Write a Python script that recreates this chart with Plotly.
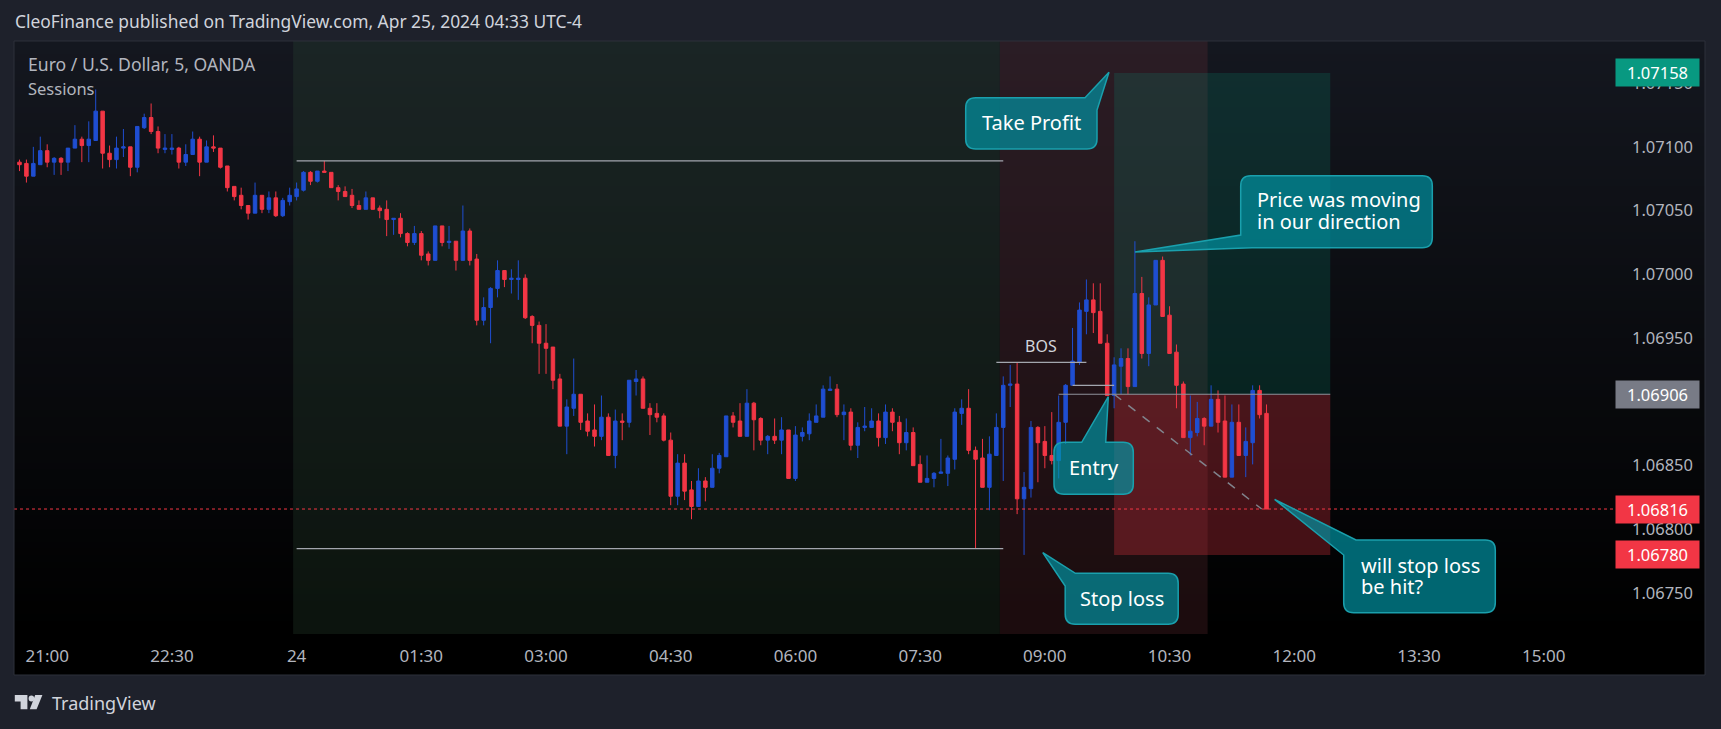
import pandas as pd
import plotly.graph_objects as go

W, H = 1721, 729

# ------------------------------------------------------------------ data
start_time = "2024-04-23 20:40"
bar_minutes = 5

opens = [
    1.07088, 1.07087, 1.07077, 1.07086,
    1.07097, 1.07088, 1.07091, 1.07088, 1.07099, 1.07106, 1.07101, 1.07105, 1.07128, 1.07095,
    1.07090, 1.07099, 1.07100, 1.07084, 1.07115, 1.07123, 1.07112, 1.07098, 1.07098, 1.07099,
    1.07088, 1.07094, 1.07106, 1.07088, 1.07100, 1.07099, 1.07085, 1.07069, 1.07062, 1.07054,
    1.07048, 1.07062, 1.07051, 1.07060, 1.07046, 1.07057, 1.07061, 1.07066, 1.07080, 1.07073,
    1.07081, 1.07080, 1.07068, 1.07065, 1.07062, 1.07054, 1.07051, 1.07060, 1.07052, 1.07051,
    1.07043, 1.07044, 1.07032, 1.07025, 1.07032, 1.07016, 1.07011, 1.07038, 1.07025, 1.07026,
    1.07011, 1.07034, 1.07012, 1.06964, 1.06974, 1.06989, 1.07003, 1.06996, 1.06996, 1.06997,
    1.06967, 1.06960, 1.06946, 1.06943, 1.06918, 1.06881, 1.06895, 1.06906, 1.06885, 1.06878,
    1.06873, 1.06888, 1.06858, 1.06885, 1.06884, 1.06916, 1.06918, 1.06895, 1.06891, 1.06889,
    1.06870, 1.06826, 1.06852, 1.06831, 1.06818, 1.06838, 1.06833, 1.06848, 1.06857, 1.06889,
    1.06885, 1.06873, 1.06899, 1.06887, 1.06870, 1.06873, 1.06870, 1.06878, 1.06840, 1.06873,
    1.06875, 1.06884, 1.06888, 1.06909, 1.06910, 1.06890, 1.06892, 1.06866, 1.06880, 1.06880,
    1.06885, 1.06872, 1.06892, 1.06884, 1.06868, 1.06876, 1.06851, 1.06837, 1.06840, 1.06844,
    1.06844, 1.06855, 1.06891, 1.06895, 1.06862, 1.06856, 1.06833, 1.06858, 1.06880, 1.06913,
    1.06914, 1.06824, 1.06832, 1.06880, 1.06869, 1.06858, 1.06854, 1.06884, 1.06913, 1.06931,
    1.06971, 1.06980, 1.06971, 1.06946, 1.06905, 1.06928, 1.06934, 1.06912, 1.06985, 1.06938,
    1.06976, 1.07011, 1.06968, 1.06939, 1.06914, 1.06872, 1.06876, 1.06887, 1.06881, 1.06902,
    1.06885, 1.06841, 1.06884, 1.06858, 1.06868, 1.06909, 1.06891,
]
highs = [
    1.07090, 1.07090, 1.07100, 1.07108,
    1.07102, 1.07092, 1.07092, 1.07099, 1.07117, 1.07108, 1.07120, 1.07145, 1.07128, 1.07101,
    1.07108, 1.07114, 1.07100, 1.07116, 1.07126, 1.07134, 1.07116, 1.07110, 1.07110, 1.07100,
    1.07102, 1.07112, 1.07108, 1.07105, 1.07109, 1.07099, 1.07085, 1.07069, 1.07068, 1.07054,
    1.07072, 1.07062, 1.07065, 1.07065, 1.07060, 1.07068, 1.07072, 1.07081, 1.07081, 1.07081,
    1.07089, 1.07080, 1.07070, 1.07069, 1.07067, 1.07058, 1.07065, 1.07060, 1.07054, 1.07058,
    1.07044, 1.07048, 1.07033, 1.07038, 1.07034, 1.07018, 1.07038, 1.07038, 1.07038, 1.07026,
    1.07054, 1.07036, 1.07016, 1.06982, 1.06990, 1.07011, 1.07003, 1.07004, 1.07011, 1.07000,
    1.06968, 1.06963, 1.06961, 1.06943, 1.06922, 1.06902, 1.06934, 1.06906, 1.06891, 1.06898,
    1.06905, 1.06891, 1.06894, 1.06891, 1.06917, 1.06925, 1.06920, 1.06899, 1.06899, 1.06891,
    1.06876, 1.06859, 1.06859, 1.06838, 1.06848, 1.06841, 1.06859, 1.06860, 1.06889, 1.06892,
    1.06899, 1.06910, 1.06900, 1.06888, 1.06874, 1.06887, 1.06888, 1.06878, 1.06881, 1.06880,
    1.06891, 1.06898, 1.06913, 1.06920, 1.06914, 1.06898, 1.06895, 1.06884, 1.06896, 1.06895,
    1.06891, 1.06898, 1.06895, 1.06889, 1.06887, 1.06880, 1.06858, 1.06858, 1.06845, 1.06871,
    1.06858, 1.06895, 1.06902, 1.06910, 1.06865, 1.06871, 1.06873, 1.06891, 1.06920, 1.06929,
    1.06931, 1.06845, 1.06885, 1.06881, 1.06881, 1.06892, 1.06905, 1.06914, 1.06958, 1.06978,
    1.06996, 1.06993, 1.06993, 1.06953, 1.06935, 1.06942, 1.06942, 1.07026, 1.06998, 1.06982,
    1.07011, 1.07014, 1.06975, 1.06945, 1.06916, 1.06905, 1.06900, 1.06888, 1.06913, 1.06909,
    1.06905, 1.06898, 1.06898, 1.06880, 1.06913, 1.06913, 1.06898,
]
lows = [
    1.07081, 1.07072, 1.07077, 1.07086,
    1.07084, 1.07078, 1.07078, 1.07081, 1.07099, 1.07088, 1.07088, 1.07105, 1.07083, 1.07084,
    1.07083, 1.07092, 1.07077, 1.07080, 1.07114, 1.07110, 1.07095, 1.07095, 1.07094, 1.07083,
    1.07085, 1.07094, 1.07077, 1.07088, 1.07096, 1.07083, 1.07065, 1.07058, 1.07051, 1.07043,
    1.07048, 1.07048, 1.07048, 1.07045, 1.07045, 1.07054, 1.07058, 1.07065, 1.07070, 1.07072,
    1.07080, 1.07068, 1.07058, 1.07061, 1.07052, 1.07051, 1.07051, 1.07051, 1.07044, 1.07030,
    1.07031, 1.07029, 1.07022, 1.07023, 1.07011, 1.07007, 1.07011, 1.07022, 1.07020, 1.07003,
    1.07011, 1.07007, 1.06960, 1.06960, 1.06946, 1.06982, 1.06990, 1.06985, 1.06980, 1.06965,
    1.06946, 1.06922, 1.06922, 1.06910, 1.06881, 1.06859, 1.06889, 1.06878, 1.06873, 1.06865,
    1.06870, 1.06858, 1.06848, 1.06870, 1.06880, 1.06905, 1.06895, 1.06874, 1.06884, 1.06869,
    1.06819, 1.06819, 1.06823, 1.06808, 1.06818, 1.06822, 1.06833, 1.06844, 1.06857, 1.06880,
    1.06873, 1.06873, 1.06862, 1.06866, 1.06859, 1.06867, 1.06859, 1.06840, 1.06838, 1.06869,
    1.06870, 1.06884, 1.06888, 1.06909, 1.06888, 1.06870, 1.06862, 1.06856, 1.06877, 1.06880,
    1.06865, 1.06867, 1.06877, 1.06859, 1.06862, 1.06850, 1.06837, 1.06837, 1.06833, 1.06844,
    1.06834, 1.06847, 1.06882, 1.06859, 1.06785, 1.06833, 1.06815, 1.06858, 1.06838, 1.06896,
    1.06812, 1.06780, 1.06825, 1.06837, 1.06848, 1.06851, 1.06840, 1.06867, 1.06913, 1.06929,
    1.06953, 1.06954, 1.06946, 1.06905, 1.06895, 1.06906, 1.06906, 1.06912, 1.06934, 1.06928,
    1.06976, 1.06967, 1.06938, 1.06895, 1.06872, 1.06858, 1.06873, 1.06866, 1.06881, 1.06876,
    1.06841, 1.06841, 1.06858, 1.06841, 1.06851, 1.06887, 1.06816,
]
closes = [
    1.07086, 1.07077, 1.07087, 1.07097,
    1.07088, 1.07091, 1.07088, 1.07099, 1.07106, 1.07101, 1.07106, 1.07128, 1.07095, 1.07090,
    1.07099, 1.07100, 1.07084, 1.07116, 1.07123, 1.07112, 1.07099, 1.07099, 1.07099, 1.07088,
    1.07094, 1.07106, 1.07088, 1.07100, 1.07099, 1.07084, 1.07068, 1.07061, 1.07054, 1.07048,
    1.07062, 1.07051, 1.07060, 1.07046, 1.07058, 1.07062, 1.07067, 1.07080, 1.07073, 1.07081,
    1.07080, 1.07068, 1.07065, 1.07061, 1.07054, 1.07051, 1.07060, 1.07051, 1.07050, 1.07043,
    1.07044, 1.07032, 1.07025, 1.07032, 1.07015, 1.07011, 1.07038, 1.07025, 1.07026, 1.07011,
    1.07034, 1.07011, 1.06964, 1.06974, 1.06989, 1.07003, 1.06996, 1.06997, 1.06997, 1.06966,
    1.06960, 1.06946, 1.06942, 1.06917, 1.06881, 1.06896, 1.06906, 1.06884, 1.06877, 1.06873,
    1.06888, 1.06858, 1.06885, 1.06884, 1.06917, 1.06918, 1.06895, 1.06890, 1.06888, 1.06870,
    1.06826, 1.06852, 1.06830, 1.06818, 1.06838, 1.06833, 1.06848, 1.06858, 1.06889, 1.06884,
    1.06873, 1.06899, 1.06886, 1.06870, 1.06873, 1.06870, 1.06878, 1.06840, 1.06874, 1.06876,
    1.06885, 1.06889, 1.06910, 1.06910, 1.06890, 1.06892, 1.06866, 1.06880, 1.06881, 1.06885,
    1.06872, 1.06892, 1.06884, 1.06868, 1.06876, 1.06850, 1.06837, 1.06840, 1.06844, 1.06845,
    1.06856, 1.06892, 1.06895, 1.06862, 1.06855, 1.06833, 1.06859, 1.06880, 1.06913, 1.06914,
    1.06824, 1.06833, 1.06880, 1.06868, 1.06858, 1.06854, 1.06884, 1.06913, 1.06932, 1.06972,
    1.06980, 1.06970, 1.06946, 1.06905, 1.06929, 1.06934, 1.06912, 1.06985, 1.06938, 1.06976,
    1.07011, 1.06967, 1.06938, 1.06913, 1.06872, 1.06877, 1.06887, 1.06881, 1.06902, 1.06884,
    1.06841, 1.06884, 1.06858, 1.06869, 1.06909, 1.06890, 1.06816,
]

x_tick_times = ["2024-04-23 21:00", "2024-04-23 22:30", "2024-04-24 00:00", "2024-04-24 01:30",
                "2024-04-24 03:00", "2024-04-24 04:30", "2024-04-24 06:00", "2024-04-24 07:30",
                "2024-04-24 09:00", "2024-04-24 10:30", "2024-04-24 12:00", "2024-04-24 13:30",
                "2024-04-24 15:00"]
x_tick_text = ["21:00", "22:30", "24", "01:30", "03:00", "04:30", "06:00", "07:30",
               "09:00", "10:30", "12:00", "13:30", "15:00"]
y_ticks = [1.0675, 1.0680, 1.0685, 1.0690, 1.0695, 1.0700, 1.0705, 1.0710, 1.0715]

asia_session = ("2024-04-24 00:00", "2024-04-24 08:30")
london_session = ("2024-04-24 08:30", "2024-04-24 11:00")
asia_high, asia_low = 1.07089, 1.06785
bos_level = 1.06931
bos_span = ("2024-04-24 08:25", "2024-04-24 09:30")
bos_label_time = "2024-04-24 08:57:30"
mark_level = 1.06913
mark_span = ("2024-04-24 09:20", "2024-04-24 09:50")
entry_price, take_profit, stop_loss = 1.06906, 1.07158, 1.06780
entry_line_start = "2024-04-24 09:10"
pos_start, pos_end = "2024-04-24 09:50", "2024-04-24 12:26"
diag_end_time = "2024-04-24 11:36:30"

# ------------------------------------------------------------------ style
BLUE = "#1f4ed1"
RED = "#f23645"
AXIS_TXT = "#b2b5be"
FONT = "Noto Sans"

# pixel frame of the chart pane
PL, PR, PT, PB = 14, 1705, 41, 634
X21_PX, BAR_PX = 47.2, 6.928          # position of 21:00 bar, width of one bar
Y_TOP, Y_BOT = 1.07183, 1.06718

t21 = pd.Timestamp("2024-04-23 21:00")
bar = pd.Timedelta(minutes=bar_minutes)


def t_at(px):
    return t21 + bar * ((px - X21_PX) / BAR_PX)


x_r0, x_r1 = t_at(PL), t_at(PR)
half = bar / 2
times = pd.date_range(start_time, periods=len(opens), freq=f"{bar_minutes}min")


def X(px):
    return px / W


def Y(py):
    return 1 - py / H


fig = go.Figure()

# gradient pane background (heatmap layer sits under bars and candles)
n_steps = 90
edges = [Y_BOT + (Y_TOP - Y_BOT) * k / n_steps for k in range(n_steps + 1)]
fig.add_trace(go.Heatmap(
    x=[x_r0, x_r1], y=edges, z=[[k / (n_steps - 1)] for k in range(n_steps)],
    colorscale=[[0, "#000000"], [1, "#14171f"]], showscale=False, hoverinfo="skip",
    zmin=0, zmax=1))


def rect(t0, t1, y0, y1, color):
    t0, t1 = pd.Timestamp(t0), pd.Timestamp(t1)
    fig.add_trace(go.Bar(
        x=[t0 + (t1 - t0) / 2], y=[y1 - y0], base=[y0],
        width=[(t1 - t0).total_seconds() * 1000],
        marker=dict(color=color, line=dict(width=0)),
        hoverinfo="skip", showlegend=False))


# sessions
rect(pd.Timestamp(asia_session[0]) - half, pd.Timestamp(asia_session[1]) - half,
     Y_BOT, Y_TOP, "rgba(46,77,54,0.26)")
rect(pd.Timestamp(london_session[0]) - half, pd.Timestamp(london_session[1]) - half,
     Y_BOT, Y_TOP, "rgba(108,46,54,0.26)")

# long position tool
rect(pos_start, pos_end, entry_price, take_profit, "rgba(8,153,129,0.18)")
rect(pos_start, pos_end, stop_loss, entry_price, "rgba(242,54,69,0.28)")

fig.add_trace(go.Candlestick(
    x=times, open=opens, high=highs, low=lows, close=closes,
    increasing=dict(line=dict(color=BLUE, width=1), fillcolor=BLUE),
    decreasing=dict(line=dict(color=RED, width=1), fillcolor=RED),
    whiskerwidth=0, hoverinfo="skip", showlegend=False))


def hline(x0, x1, y, color, width=1.2, dash="solid"):
    fig.add_trace(go.Scatter(x=[x0, x1], y=[y, y], mode="lines",
                             line=dict(color=color, width=width, dash=dash),
                             hoverinfo="skip", showlegend=False))


hline(asia_session[0], asia_session[1], asia_high, "#a3a6ae")
hline(asia_session[0], asia_session[1], asia_low, "#a3a6ae")
hline(bos_span[0], bos_span[1], bos_level, "#a3a6ae")
hline(mark_span[0], mark_span[1], mark_level, "#a3a6ae")
hline(entry_line_start, pos_end, entry_price, "#8f929b")
# current price line
hline(x_r0, t_at(1616), closes[-1], RED, width=1, dash="dot")

# dashed line entry -> current price
fig.add_trace(go.Scatter(x=[pos_start, diag_end_time], y=[entry_price, closes[-1]], mode="lines",
                         line=dict(color="#80838c", width=1.5, dash="dash"),
                         hoverinfo="skip", showlegend=False))

# ------------------------------------------------------------------ layout
fig.update_layout(
    width=W, height=H, margin=dict(l=0, r=0, t=0, b=0, autoexpand=False),
    paper_bgcolor="#1e212b", plot_bgcolor="#000000",
    font=dict(family=FONT, color=AXIS_TXT),
    showlegend=False, boxgap=0.28, barmode="overlay",
    xaxis=dict(domain=[X(PL), X(PR)], range=[x_r0, x_r1], type="date",
               rangeslider=dict(visible=False), showgrid=False, zeroline=False,
               tickvals=x_tick_times, ticktext=x_tick_text, ticks="",
               tickfont=dict(size=17, color=AXIS_TXT), ticklabelstandoff=10,
               showline=False, fixedrange=True),
    yaxis=dict(domain=[Y(PB), Y(PT)], range=[Y_BOT, Y_TOP], side="right",
               tickvals=y_ticks, tickformat=".5f", ticklabelposition="inside",
               ticklabelstandoff=9, ticks="", showgrid=False, zeroline=False,
               tickfont=dict(size=16.5, color=AXIS_TXT), showline=False, fixedrange=True),
)

shapes = []
# x-axis strip
shapes.append(dict(type="rect", xref="paper", yref="paper", x0=X(PL), x1=X(PR), y0=Y(675), y1=Y(PB),
                   fillcolor="#000000", line=dict(width=0), layer="below"))
# pane border
shapes.append(dict(type="rect", xref="paper", yref="paper", x0=X(PL), x1=X(PR), y0=Y(675), y1=Y(PT),
                   line=dict(color="#2c303b", width=1), layer="above"))


def P(x, y):
    return f"{X(x):.5f},{Y(y):.5f}"


def bubble(x0, y0, x1, y1, tail_at, a, tip, b, r=10):
    corners = {
        "tr": ((x1 - r, y0), (x1, y0), (x1, y0 + r)),
        "br": ((x1, y1 - r), (x1, y1), (x1 - r, y1)),
        "bl": ((x0 + r, y1), (x0, y1), (x0, y1 - r)),
        "tl": ((x0, y0 + r), (x0, y0), (x0 + r, y0)),
    }
    cmds = []
    for key in ["top", "tr", "br", "bl", "tl"]:
        if key == tail_at:
            cmds += [("L", a), ("L", tip), ("L", b)]
        elif key == "top":
            continue
        else:
            pin, c, pout = corners[key]
            cmds += [("L", pin), ("Q", c, pout)]
    start = cmds[-1][-1]
    path = "M " + P(*start)
    for cmd in cmds:
        if cmd[0] == "L":
            path += " L " + P(*cmd[1])
        else:
            path += " Q " + P(*cmd[1]) + " " + P(*cmd[2])
    path += " Z"
    shapes.append(dict(type="path", xref="paper", yref="paper", path=path,
                       fillcolor="rgba(0,151,167,0.68)", line=dict(color="#1aa0ad", width=1.5),
                       layer="above"))


bubble(965.7, 97.7, 1097, 149, "tr", (1085, 97.7), (1109, 72.3), (1097, 110))
bubble(1240.7, 175.7, 1432.3, 247.7, "bl", (1252, 247.7), (1135, 252), (1240.7, 235))
bubble(1054, 442.3, 1133.3, 494.3, "top", (1081.7, 442.3), (1108.3, 396.7), (1105.7, 442.3))
bubble(1065.2, 573.3, 1178.2, 624.3, "tl", (1065.2, 586), (1042.8, 552.7), (1075.4, 573.3))
bubble(1343.7, 540, 1495.3, 612.7, "tl", (1343.7, 555), (1274.6, 499.3), (1356, 540))

# TradingView logo mark
LOGO = "#d1d4dc"
shapes.append(dict(type="path", xref="paper", yref="paper", fillcolor=LOGO, line=dict(width=0),
                   path="M " + P(14.8, 695) + " L " + P(27.4, 695) + " L " + P(27.4, 709.3) +
                        " L " + P(20.6, 709.3) + " L " + P(20.6, 701.5) + " L " + P(14.8, 701.5) + " Z"))
shapes.append(dict(type="circle", xref="paper", yref="paper", fillcolor=LOGO, line=dict(width=0),
                   x0=X(28.6), x1=X(34.2), y0=Y(701.5), y1=Y(695.4)))
shapes.append(dict(type="path", xref="paper", yref="paper", fillcolor=LOGO, line=dict(width=0),
                   path="M " + P(35.2, 695) + " L " + P(42.4, 695) + " L " + P(36.6, 709.3) +
                        " L " + P(29.8, 709.3) + " Z"))

fig.update_layout(shapes=shapes)

ann = []


def text(t, x, y, size, color="#ffffff", xanchor="left", yanchor="middle"):
    ann.append(dict(text=t, x=X(x), y=Y(y), xref="paper", yref="paper", showarrow=False,
                    xanchor=xanchor, yanchor=yanchor, font=dict(size=size, color=color, family=FONT)))


text("CleoFinance published on TradingView.com, Apr 25, 2024 04:33 UTC-4", 12.5, 20.5, 17.4, "#d1d4dc")
text("Euro / U.S. Dollar, 5, OANDA", 25.5, 64.5, 17.6, AXIS_TXT)
text("Sessions", 25.5, 88.5, 16.5, AXIS_TXT)
text("TradingView", 49.5, 702.5, 18, "#d1d4dc")

text("Take Profit", 1031.5, 122, 20, xanchor="center")
text("Price was moving", 1255, 199, 20)
text("in our direction", 1255, 221, 20)
text("Entry", 1093.5, 467.5, 20, xanchor="center")
text("Stop loss", 1121.5, 598, 20, xanchor="center")
text("will stop loss", 1358.5, 565, 20)
text("be hit?", 1358.5, 586, 20)

# BOS label on the data
ann.append(dict(text="BOS", x=bos_label_time, y=1.06944, xref="x", yref="y", showarrow=False,
                xanchor="center", yanchor="middle", font=dict(size=16, color="#d1d4dc", family=FONT)))

# price scale labels
for val, col in [(take_profit, "#089981"), (entry_price, "#787b86"),
                 (closes[-1], RED), (stop_loss, RED)]:
    ann.append(dict(text=f"{val:.5f}", x=X(1657.5), y=val, xref="paper", yref="y",
                    showarrow=False, xanchor="center", yanchor="middle",
                    bgcolor=col, borderpad=3, width=77, height=21,
                    font=dict(size=16.5, color="#ffffff", family=FONT)))

fig.update_layout(annotations=ann)

fig.write_html("out.html", config={"displayModeBar": False},
               post_script="document.body.style.margin='0px';document.body.style.overflow='hidden';")
